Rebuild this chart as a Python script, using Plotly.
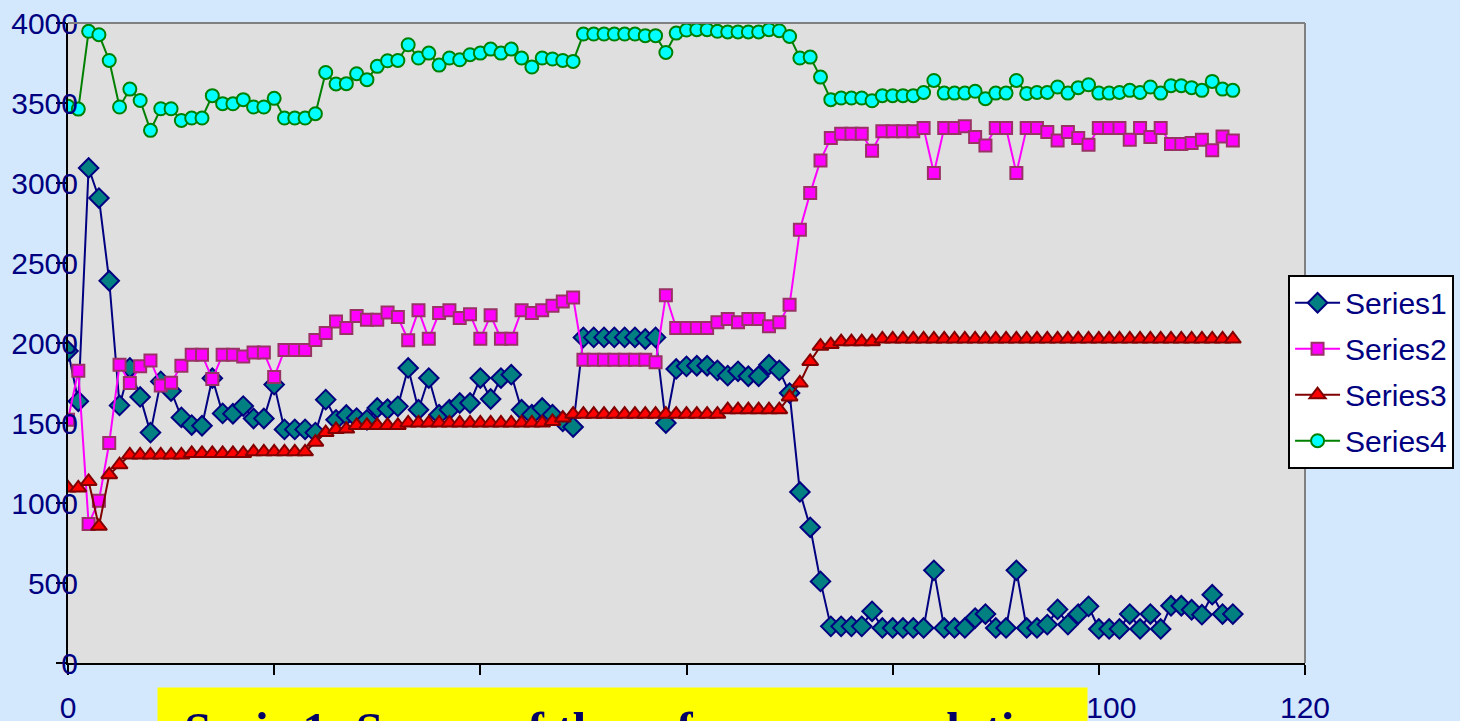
import plotly.graph_objects as go

x_index = list(range(114))

series1 = [1950, 1636, 3094, 2906, 2389, 1610, 1845, 1663, 1440, 1760,
           1700, 1535, 1487, 1483, 1780, 1560, 1558, 1606, 1528, 1528,
           1740, 1460, 1460, 1460, 1440, 1646, 1520, 1550, 1531, 1520,
           1594, 1587, 1604, 1844, 1583, 1781, 1552, 1583, 1625, 1625,
           1781, 1650, 1781, 1802, 1583, 1552, 1594, 1552, 1510, 1475,
           2035, 2035, 2035, 2035, 2035, 2035, 2025, 2035, 1500, 1838,
           1854, 1858, 1858, 1829, 1796, 1823, 1792, 1792, 1864, 1829,
           1687, 1069, 848, 510, 229, 229, 229, 229, 323, 219,
           219, 219, 219, 219, 579, 219, 219, 219, 281, 306,
           219, 219, 579, 219, 219, 240, 335, 240, 306, 354,
           213, 213, 213, 306, 213, 306, 213, 358, 358, 333,
           302, 427, 306, 306]

series2 = [1521, 1827, 869, 1014, 1375, 1864, 1750, 1854, 1891, 1735,
           1752, 1858, 1927, 1927, 1775, 1927, 1927, 1916, 1941, 1941,
           1787, 1956, 1956, 1956, 2019, 2062, 2135, 2094, 2169, 2146,
           2146, 2191, 2162, 2017, 2204, 2027, 2187, 2204, 2156, 2179,
           2027, 2173, 2027, 2027, 2204, 2187, 2204, 2233, 2260, 2285,
           1896, 1896, 1896, 1896, 1896, 1896, 1896, 1879, 2298, 2094,
           2094, 2094, 2094, 2129, 2150, 2129, 2150, 2150, 2104, 2129,
           2239, 2708, 2937, 3141, 3281, 3308, 3308, 3308, 3202, 3323,
           3323, 3323, 3323, 3344, 3062, 3344, 3344, 3354, 3287, 3235,
           3344, 3344, 3062, 3344, 3344, 3319, 3266, 3319, 3281, 3239,
           3344, 3344, 3344, 3271, 3344, 3287, 3344, 3244, 3244, 3250,
           3271, 3204, 3291, 3266]

series3 = [1094, 1094, 1135, 854, 1177, 1239, 1300, 1300, 1300, 1300,
           1300, 1300, 1310, 1310, 1310, 1310, 1310, 1310, 1320, 1320,
           1320, 1320, 1320, 1320, 1380, 1440, 1460, 1462, 1485, 1485,
           1485, 1485, 1485, 1500, 1500, 1500, 1500, 1500, 1500, 1500,
           1500, 1500, 1500, 1500, 1500, 1500, 1500, 1510, 1531, 1555,
           1555, 1555, 1555, 1555, 1555, 1555, 1555, 1555, 1555, 1555,
           1555, 1555, 1555, 1555, 1583, 1583, 1583, 1583, 1583, 1583,
           1663, 1750, 1885, 1980, 1990, 2008, 2008, 2008, 2008, 2025,
           2025, 2025, 2025, 2025, 2025, 2025, 2025, 2025, 2025, 2025,
           2025, 2025, 2025, 2025, 2025, 2025, 2025, 2025, 2025, 2025,
           2025, 2025, 2025, 2025, 2025, 2025, 2025, 2025, 2025, 2025,
           2025, 2025, 2025, 2025]

series4 = [3479, 3462, 3948, 3927, 3766, 3475, 3587, 3516, 3329, 3464,
           3464, 3391, 3406, 3406, 3546, 3496, 3495, 3521, 3475, 3475,
           3529, 3406, 3406, 3406, 3433, 3691, 3619, 3621, 3683, 3646,
           3729, 3764, 3766, 3864, 3781, 3812, 3737, 3781, 3770, 3802,
           3812, 3837, 3812, 3837, 3781, 3725, 3781, 3775, 3766, 3760,
           3931, 3931, 3931, 3931, 3931, 3931, 3921, 3921, 3816, 3937,
           3956, 3958, 3958, 3948, 3944, 3944, 3944, 3944, 3958, 3952,
           3916, 3781, 3787, 3662, 3521, 3531, 3531, 3531, 3514, 3546,
           3546, 3546, 3546, 3566, 3641, 3562, 3562, 3562, 3573, 3527,
           3562, 3562, 3641, 3560, 3566, 3566, 3600, 3562, 3596, 3614,
           3562, 3562, 3566, 3579, 3566, 3600, 3562, 3608, 3608, 3596,
           3579, 3635, 3587, 3579]

series_names = ["Series1", "Series2", "Series3", "Series4"]
x_ticks = [0, 20, 40, 60, 80, 100, 120]
# 20..80 are hidden behind the caption box in the reference
x_tick_labels = ["0", "", "", "", "", "\u00a0\u00a0\u00a0100", "120"]
y_ticks = [0, 500, 1000, 1500, 2000, 2500, 3000, 3500, 4000]
caption = "Serie 1: Scores of the reference population"

styles = [
    dict(line="#000080", fill="#008080", edge="#000080", symbol="diamond", size=15),
    dict(line="#FF00FF", fill="#FF00FF", edge="#993366", symbol="square", size=12),
    dict(line="#800000", fill="#FF0000", edge="#800000", symbol="triangle-up", size=14),
    dict(line="#008000", fill="#00FFFF", edge="#008000", symbol="circle", size=13),
]

fig = go.Figure()
for k, (name, vals, st) in enumerate(zip(series_names, [series1, series2, series3, series4], styles)):
    fig.add_trace(go.Scatter(
        x=x_index, y=vals, name=name, mode="lines+markers", legendgroup=f"g{k}",
        line=dict(color=st["line"], width=2),
        marker=dict(symbol=st["symbol"], size=st["size"], color=st["fill"],
                    line=dict(color=st["edge"], width=2)),
    ))

navy = "#000080"
fig.update_layout(
    width=1460, height=721,
    margin=dict(l=68, r=155, t=23, b=58, autoexpand=False),
    paper_bgcolor="#D3E8FC",
    plot_bgcolor="#DFDFDF",
    font=dict(family="Liberation Sans, Arial, sans-serif", size=30, color=navy),
    showlegend=True,
    legend=dict(
        x=0.9863, y=0.6067, xanchor="left", yanchor="top",
        bgcolor="white", bordercolor="black", borderwidth=2,
        font=dict(size=30, color=navy),
        tracegroupgap=4, itemwidth=45,
    ),
    xaxis=dict(
        range=[0, 120], tickvals=x_ticks, ticktext=x_tick_labels,
        showgrid=False, zeroline=False, automargin=False,
        showline=True, linecolor="black", linewidth=2,
        ticks="outside", ticklen=10, tickwidth=2, tickcolor="black",
        ticklabelstandoff=7,
        tickfont=dict(size=30, color=navy),
    ),
    yaxis=dict(
        range=[0, 4000], tickvals=y_ticks, showgrid=False, zeroline=False,
        automargin=False,
        showline=True, linecolor="black", linewidth=2,
        ticks="outside", ticklen=10, tickwidth=2, tickcolor="black",
        ticklabelstandoff=-28,
        tickfont=dict(size=30, color=navy),
    ),
)

# grey frame on top and right of plot area
fig.add_shape(type="line", xref="paper", yref="paper", x0=0, x1=1, y0=1, y1=1,
              line=dict(color="#808080", width=2))
fig.add_shape(type="line", xref="paper", yref="paper", x0=1, x1=1, y0=0, y1=1,
              line=dict(color="#808080", width=2))

fig.add_annotation(
    xref="paper", yref="paper", x=0.0717, y=-0.037, xanchor="left", yanchor="top",
    text="&nbsp;" + caption, showarrow=False, align="left",
    width=901, height=80, valign="top", borderpad=14,
    bgcolor="#FFFF00",
    font=dict(family="Liberation Serif, Times New Roman, serif", size=49,
              color="#000066", weight="bold"),
)

fig.write_html("out.html", config={"displayModeBar": False},
               post_script="document.body.style.margin='0px';document.body.style.overflow='hidden';")
